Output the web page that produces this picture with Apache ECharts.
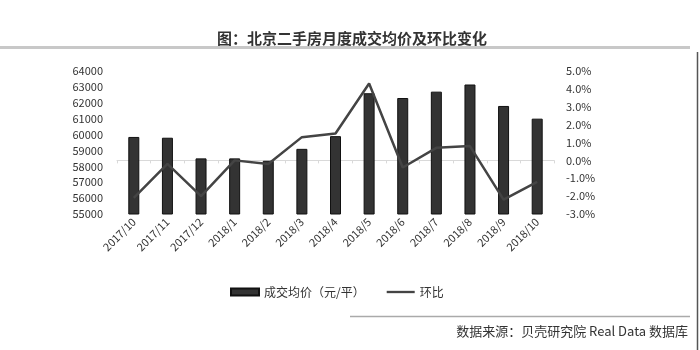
<!DOCTYPE html>
<html><head><meta charset="utf-8">
<script src="https://cdn.jsdelivr.net/npm/echarts@6/dist/echarts.min.js"></script>
<style>html,body{margin:0;padding:0;background:#fff}#c{width:700px;height:350px}</style>
</head><body><div id="c"></div>
<script>
const categories = ['2017/10','2017/11','2017/12','2018/1','2018/2','2018/3','2018/4','2018/5','2018/6','2018/7','2018/8','2018/9','2018/10'];
const avgPrice = [59850, 59800, 58500, 58500, 58350, 59100, 59900, 62600, 62300, 62700, 63150, 61800, 61000];
const momChange = [-2.1, -0.2, -2.0, 0.0, -0.2, 1.3, 1.5, 4.3, -0.4, 0.7, 0.8, -2.2, -1.2];
const titleText = '图：北京二手房月度成交均价及环比变化';
const sourceText = '数据来源：贝壳研究院 Real Data 数据库';
const seriesNames = ['成交均价（元/平）', '环比'];

const font = '"Noto Sans CJK SC", "Liberation Sans", sans-serif';
const chart = echarts.init(document.getElementById('c'), null, {renderer: 'canvas'});
chart.setOption({
  animation: false,
  backgroundColor: '#fff',
  title: {
    text: titleText, left: 347, top: 26, textAlign: 'center',
    textStyle: {fontFamily: font, fontSize: 15, fontWeight: 'bold', color: '#333'}
  },
  graphic: [
    {type: 'line', shape: {x1: 0, y1: 47.5, x2: 690, y2: 47.5}, style: {stroke: '#c8c8c8', lineWidth: 3}},
    {type: 'line', shape: {x1: 350, y1: 316.5, x2: 690, y2: 316.5}, style: {stroke: '#aaa', lineWidth: 1.5}},
    {type: 'line', shape: {x1: 697.5, y1: 52, x2: 697.5, y2: 350}, style: {stroke: '#555', lineWidth: 1.5}},
    {type: 'text', right: 12, top: 325, style: {text: sourceText, font: '13px ' + font, fill: '#333'}}
  ],
  legend: {
    left: 225, top: 281, itemGap: 22, itemWidth: 28, itemHeight: 7,
    textStyle: {fontFamily: font, fontSize: 12, color: '#333'},
    data: [
      {name: seriesNames[0], icon: 'rect'},
      {name: seriesNames[1], icon: 'path://M0,0H30V2.5H0Z', itemStyle: {color: '#444'}}
    ]
  },
  grid: {left: 117, right: 146, top: 71, height: 143},
  xAxis: {
    type: 'category', data: categories, boundaryGap: true,
    axisLine: {lineStyle: {color: '#d9d9d9'}},
    axisTick: {show: true, length: 3, lineStyle: {color: '#d9d9d9'}},
    axisLabel: {rotate: 45, fontFamily: font, fontSize: 11, color: '#333', margin: 6, interval: 0}
  },
  yAxis: [
    {type: 'value', min: 55000, max: 64000, interval: 1000,
     splitLine: {show: false}, axisLine: {show: false}, axisTick: {show: false},
     axisLabel: {fontFamily: font, fontSize: 11, color: '#333', margin: 14, formatter: v => String(v)}},
    {type: 'value', min: -3, max: 5, interval: 1,
     splitLine: {show: false}, axisLine: {show: false}, axisTick: {show: false},
     axisLabel: {fontFamily: font, fontSize: 11, color: '#333', margin: 12,
       formatter: v => v.toFixed(1) + '%'}}
  ],
  series: [
    {name: seriesNames[0], type: 'bar', data: avgPrice, barWidth: 11, yAxisIndex: 0,
     itemStyle: {color: '#333', borderColor: '#111', borderWidth: 1}},
    {name: seriesNames[1], type: 'line', data: momChange, yAxisIndex: 1,
     symbol: 'none', lineStyle: {color: '#444', width: 2.5}, itemStyle: {color: '#444'}}
  ]
});
</script></body></html>
